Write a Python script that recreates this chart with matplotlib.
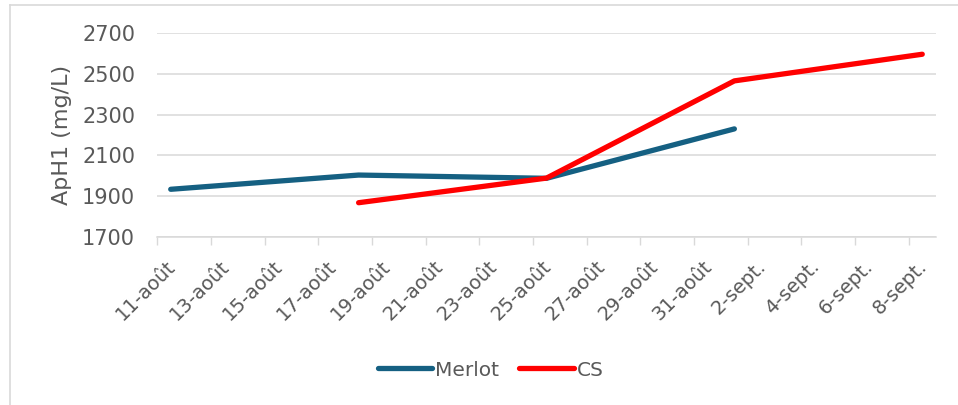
import pandas as pd
import matplotlib.pyplot as plt
from matplotlib.lines import Line2D
from matplotlib.transforms import ScaledTranslation

## data
merlot_dates = ["2024-08-11", "2024-08-18", "2024-08-25", "2024-09-01"]
merlot_vals = [1933, 2003, 1987, 2230]
cs_dates = ["2024-08-18", "2024-08-25", "2024-09-01", "2024-09-08"]
cs_vals = [1867, 1988, 2466, 2597]

tick_dates = pd.date_range("2024-08-11", "2024-09-08", freq="2D")
tick_labels = ["11-août", "13-août", "15-août", "17-août", "19-août", "21-août",
               "23-août", "25-août", "27-août", "29-août", "31-août",
               "2-sept.", "4-sept.", "6-sept.", "8-sept."]
y_ticks = [1700, 1900, 2100, 2300, 2500, 2700]

text_col = "#595959"
grid_col = "#d9d9d9"
plt.rcParams["font.family"] = "DejaVu Sans"

fig = plt.figure(figsize=(9.58, 4.05), dpi=100)
ax = fig.add_axes([0.1642, 0.4156, 0.9767 - 0.1642, 0.9178 - 0.4156])

## Excel date axis puts points in the middle of each day
half_day = pd.Timedelta(hours=12)
ax.plot(pd.to_datetime(merlot_dates) + half_day, merlot_vals, color="#156082",
        lw=3.8, solid_capstyle="round", solid_joinstyle="round", label="Merlot")
ax.plot(pd.to_datetime(cs_dates) + half_day, cs_vals, color="#ff0000",
        lw=3.8, solid_capstyle="round", solid_joinstyle="round", label="CS")

ax.set_xlim(pd.Timestamp("2024-08-11"), pd.Timestamp("2024-09-09"))
ax.set_ylim(1700, 2700)
ax.set_yticks(y_ticks)
ax.set_xticks(tick_dates)
ax.set_xticklabels([])

## date labels drawn as text so they can be nudged like Excel does
lbl_trans = ax.get_xaxis_transform() + ScaledTranslation(0.15, -0.27, fig.dpi_scale_trans)
for d, lab in zip(tick_dates, tick_labels):
    ax.text(d, 0, lab, transform=lbl_trans, rotation=45, ha="right", va="center",
            rotation_mode="anchor", fontsize=14, color=text_col)

ax.tick_params(axis="y", length=0, pad=16, labelsize=15, labelcolor=text_col)
ax.tick_params(axis="x", length=6, width=1, color=grid_col, pad=0)
ax.grid(axis="y", color=grid_col, lw=1.1)
ax.set_axisbelow(True)
for s in ["top", "right", "left"]:
    ax.spines[s].set_visible(False)
ax.spines["bottom"].set_color(grid_col)
ax.spines["bottom"].set_linewidth(1.1)

ax.set_ylabel("ApH1 (mg/L)", fontsize=16, color=text_col)
ax.yaxis.set_label_coords(-0.1096, 0.5)

fig.legend(handles=ax.get_lines(), loc="center", bbox_to_anchor=(0.512, 0.0864),
           ncol=2, frameon=False, fontsize=14.5, handlelength=2.7, handletextpad=0.15,
           columnspacing=1.0, labelcolor=text_col)

## chart border (only top and left visible in the crop)
fig.add_artist(Line2D([10 / 958, 1], [1 - 5 / 405] * 2, color=grid_col, lw=1.2))
fig.add_artist(Line2D([10 / 958] * 2, [0, 1 - 5 / 405], color=grid_col, lw=1.2))

fig.savefig("out.png", dpi=100)
